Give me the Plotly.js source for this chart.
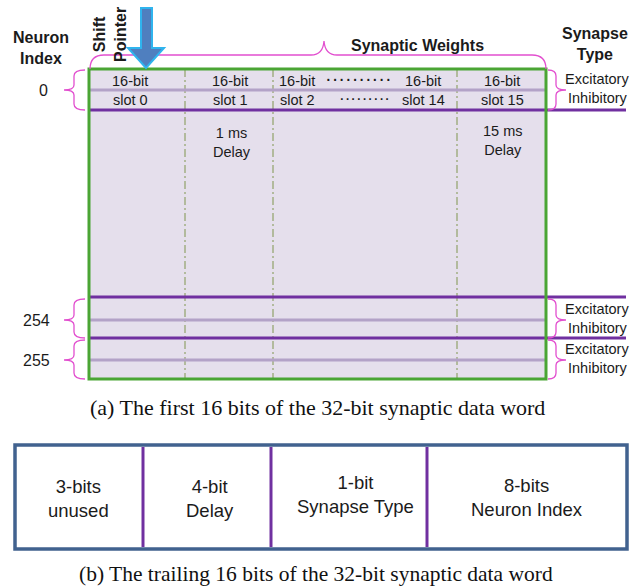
<!DOCTYPE html>
<html>
<head>
<meta charset="utf-8">
<script src="https://cdn.plot.ly/plotly-3.0.1.min.js"></script>
<style>
html,body{margin:0;padding:0;background:#fff;}
#chart{width:631px;height:586px;}
</style>
</head>
<body>
<div id="chart"></div>
<script>
// ---- content ----
const neuronIndices = ['0', '254', '255'];
const synapseTypes = ['Excitatory', 'Inhibitory'];
const slotBits = ['16-bit', '16-bit', '16-bit', '16-bit', '16-bit'];
const slotNames = ['slot 0', 'slot 1', 'slot 2', 'slot 14', 'slot 15'];
const delayLabels = ['1 ms<br>Delay', '15 ms<br>Delay'];
const headerLabels = ['Neuron<br>Index', 'Shift<br>Pointer', 'Synaptic Weights', 'Synapse<br>Type'];
const wordFields = ['3-bits<br>unused', '4-bit<br>Delay', '1-bit<br>Synapse Type', '8-bits<br>Neuron Index'];
const captions = ['(a) The first 16 bits of the 32-bit synaptic data word',
                  '(b) The trailing 16 bits of the 32-bit synaptic data word'];

// ---- layout geometry (pixels) ----
const SANS = 'Liberation Sans, Arial, sans-serif';
const SERIF = 'Liberation Serif, Times New Roman, serif';
const TXT = '#1b1b1b';
const MAG = '#E24FCF';
const DARKP = '#7030A0';
const LIGHTP = '#B3A2C7';
const GREEN = '#4AA534';

const box = {x0: 89, x1: 546, y0: 69, y1: 379};
const rowRanges = [[70, 110, 90], [299, 338, 320], [340, 379, 360]];
const darkLinesY = [110, 297, 338];
const lightLinesY = [90, 320, 360];
const dashX = [185, 273, 457];
const slotX = [130, 230, 297, 423, 502];
const fieldDividers = [143, 271, 427];
const fieldX = [78, 210, 355, 527];
const fieldY = [498, 498, 494, 497];

const shapes = [];
const ann = [];

// main box fill
shapes.push({type: 'rect', xref: 'x', yref: 'y', x0: box.x0, x1: box.x1, y0: box.y0, y1: box.y1,
  fillcolor: '#E5DFEC', line: {width: 0}});
// dashed column separators
dashX.forEach(x => shapes.push({type: 'line', xref: 'x', yref: 'y', x0: x, x1: x, y0: box.y0, y1: box.y1,
  line: {color: '#9DAA7C', width: 1.4, dash: '8px,3px,2px,3px'}}));
// light purple separators
lightLinesY.forEach(y => shapes.push({type: 'line', xref: 'x', yref: 'y', x0: box.x0, x1: box.x1, y0: y, y1: y,
  line: {color: LIGHTP, width: 3}}));
// dark purple separators
darkLinesY.forEach(y => shapes.push({type: 'line', xref: 'x', yref: 'y', x0: box.x0, x1: 626, y0: y, y1: y,
  line: {color: DARKP, width: 3}}));
// green border
shapes.push({type: 'rect', xref: 'x', yref: 'y', x0: box.x0, x1: box.x1, y0: box.y0, y1: box.y1,
  line: {color: GREEN, width: 3}});

// braces
rowRanges.forEach(r => {
  const [ty, by, my] = r;
  shapes.push({type: 'path', xref: 'x', yref: 'y', line: {color: MAG, width: 1.3},
    path: `M85,${ty} Q74,${ty} 74,${ty+6} L74,${my-5} Q74,${my} 64,${my} Q74,${my} 74,${my+5} L74,${by-6} Q74,${by} 85,${by}`});
  shapes.push({type: 'path', xref: 'x', yref: 'y', line: {color: MAG, width: 1.3},
    path: `M548,${ty} Q556,${ty} 556,${ty+6} L556,${my-5} Q556,${my} 566,${my} Q556,${my} 556,${my+5} L556,${by-6} Q556,${by} 548,${by}`});
});
// top brace
shapes.push({type: 'path', xref: 'x', yref: 'y', line: {color: MAG, width: 1.3},
  path: 'M90,69 Q90,55 104,55 L311,55 Q323,55 324,41 Q325,55 337,55 L532,55 Q546,55 546,69'});

// shift pointer arrow
shapes.push({type: 'path', xref: 'x', yref: 'y', fillcolor: '#4F7FBF', line: {color: '#2FB4EE', width: 2},
  path: 'M141,8 L152,8 L152,48 L164,48 L146,68 L128,48 L141,48 Z'});

// bottom word box
shapes.push({type: 'rect', xref: 'x', yref: 'y', x0: 15, x1: 627, y0: 445, y1: 549,
  fillcolor: '#ffffff', line: {color: '#41628F', width: 3.5}});
fieldDividers.forEach(x => shapes.push({type: 'line', xref: 'x', yref: 'y', x0: x, x1: x, y0: 447, y1: 547,
  line: {color: DARKP, width: 3}}));

function txt(x, y, text, size, opts) {
  ann.push(Object.assign({xref: 'x', yref: 'y', x: x, y: y, text: text, showarrow: false,
    xanchor: 'center', yanchor: 'middle',
    font: {family: SANS, size: size, color: TXT}}, opts || {}));
}

// headers
txt(41, 48, '<b>' + headerLabels[0] + '</b>', 16);
txt(110, 35, '<b>' + headerLabels[1] + '</b>', 16, {textangle: -90});
txt(417, 45, '<b>' + headerLabels[2] + '</b>', 16);
txt(595, 44, '<b>' + headerLabels[3] + '</b>', 16);

// neuron indices
const idxX = [43, 36, 36];
neuronIndices.forEach((t, i) => txt(idxX[i], rowRanges[i][2], t, 16));

// synapse types
rowRanges.forEach(r => {
  txt(597, r[2] - 11, synapseTypes[0], 14.5);
  txt(598, r[2] + 8, synapseTypes[1], 14.5);
});

// slots
slotBits.forEach((t, i) => txt(slotX[i], 81, t, 14.5));
slotNames.forEach((t, i) => txt(slotX[i], 100, t, 14.5));
txt(358, 78, '··········', 20);
txt(364, 98, '·········', 17);

// delays
txt(232, 142, delayLabels[0], 14.5);
txt(503, 140, delayLabels[1], 14.5);

// word fields
wordFields.forEach((t, i) => txt(fieldX[i], fieldY[i], t, 18.5));

// captions
txt(317, 407, captions[0], 22, {font: {family: SERIF, size: 22, color: '#111'}});
txt(316, 574, captions[1], 21.5, {font: {family: SERIF, size: 21.5, color: '#111'}});

const layout = {
  width: 631, height: 586,
  margin: {l: 0, r: 0, t: 0, b: 0, pad: 0},
  paper_bgcolor: '#ffffff', plot_bgcolor: '#ffffff',
  showlegend: false,
  xaxis: {range: [0, 631], visible: false, fixedrange: true},
  yaxis: {range: [586, 0], visible: false, fixedrange: true},
  shapes: shapes,
  annotations: ann
};

Plotly.newPlot('chart', [{x: [], y: [], type: 'scatter'}], layout, {staticPlot: true, displayModeBar: false});
</script>
</body>
</html>
